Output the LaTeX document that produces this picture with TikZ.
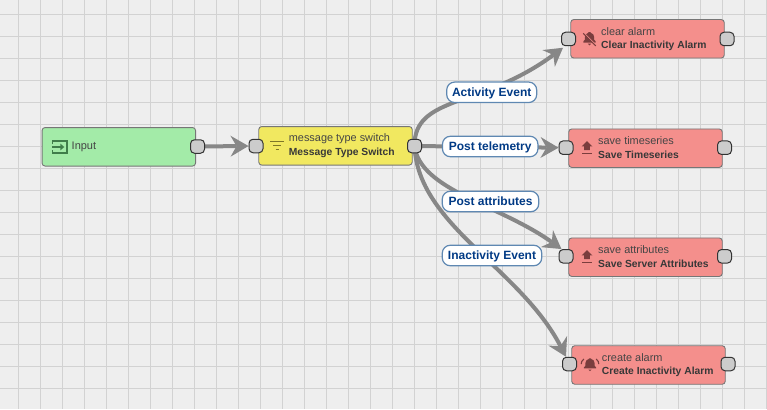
\documentclass[tikz,border=0pt]{standalone}
\usepackage{fontspec}
\setmainfont{Liberation Sans}
\usetikzlibrary{arrows.meta}
\pgfdeclarelayer{gridlayer}
\pgfdeclarelayer{edgelayer}
\pgfsetlayers{gridlayer,edgelayer,main}
\definecolor{bgc}{HTML}{EEEEEE}
\definecolor{gridc}{HTML}{D2D2D2}
\definecolor{edgec}{HTML}{878787}
\definecolor{boxline}{HTML}{767676}
\definecolor{greenc}{HTML}{A3EBA8}
\definecolor{yellowc}{HTML}{F1E860}
\definecolor{redc}{HTML}{F48F8C}
\definecolor{portc}{HTML}{CCCCCC}
\definecolor{labelc}{HTML}{003A85}
\definecolor{labelline}{HTML}{5F88B2}
\definecolor{textc}{HTML}{454545}
\definecolor{redicon}{HTML}{7A3D3D}
\definecolor{yellowicon}{HTML}{7D7628}
\definecolor{greenicon}{HTML}{3F7D4A}
\tikzset{
  box/.style={draw=boxline,line width=0.9pt,rounded corners=3pt,minimum width=153.5pt,minimum height=38.5pt,inner sep=0pt},
  greenbox/.style={box,fill=greenc},
  yellowbox/.style={box,fill=yellowc},
  redbox/.style={box,fill=redc},
  port/.style={draw=black!80,line width=1pt,fill=portc,rounded corners=4pt,minimum width=14pt,minimum height=13.5pt,inner sep=0pt},
  edgeline/.style={draw=edgec,line width=4pt,-{Stealth[length=18pt,width=21pt,inset=6pt,line width=0pt]}},
  edgelabel/.style={draw=labelline,line width=1.2pt,fill=white,rounded corners=8pt,text=labelc,font=\fontsize{12}{14}\selectfont\bfseries,inner sep=0pt,minimum height=20.5pt,text height=11.6pt,text depth=3pt},
  nametext/.style={anchor=west,inner sep=0pt,text=textc,font=\fontsize{10.9}{12}\selectfont},
  typetext/.style={anchor=west,inner sep=0pt,text=black!78,font=\fontsize{10.3}{12}\selectfont\bfseries},
}
\newcommand{\bellbody}{
  (-5.5,3.6) -- (5.5,3.6) -- (5.5,2.6) -- (4.2,1.2) -- (4.2,-1.2)
  .. controls (4.2,-3.4) and (2.8,-4.6) .. (1.1,-5)
  -- (1.1,-5.6) -- (-1.1,-5.6) -- (-1.1,-5)
  .. controls (-2.8,-4.6) and (-4.2,-3.4) .. (-4.2,-1.2)
  -- (-4.2,1.2) -- (-5.5,2.6) -- cycle
  (-1.5,4.6) -- (1.5,4.6) .. controls (1.5,6.6) and (-1.5,6.6) .. (-1.5,4.6) -- cycle
}
\newcommand{\uploadicon}[2]{
  \begin{scope}[shift={(#1,#2)}]
    \fill[redicon] (0,-5.8) -- (5.4,-0.6) -- (2.8,-0.6) -- (2.8,3.2) -- (-2.8,3.2) -- (-2.8,-0.6) -- (-5.4,-0.6) -- cycle;
    \fill[redicon] (-5.4,5.5) rectangle (5.4,6.6);
  \end{scope}
}
\begin{document}
\begin{tikzpicture}[x=1pt,y=-1pt]
\useasboundingbox (0,0) rectangle (767,409);
\begin{pgfonlayer}{gridlayer}
  \fill[bgc] (0,0) rectangle (767,409);
  \foreach \i in {0,...,34} \draw[gridc,line width=1pt] ({18.3+22*\i},0) -- ({18.3+22*\i},409);
  \foreach \j in {0,...,18} \draw[gridc,line width=1pt] (0,{14.3+22*\j}) -- (767,{14.3+22*\j});
\end{pgfonlayer}

% boxes
\node[greenbox]  (in) at (118.8,146.8) {};
\node[yellowbox] (ms) at (335.5,145.8) {};
\node[redbox]    (ca) at (647.5,38.8)  {};
\node[redbox]    (st) at (645.5,148.2) {};
\node[redbox]    (sa) at (645.5,257.2) {};
\node[redbox]    (cr) at (648.5,365)   {};

% ports
\node[port] (inR) at (197.5,146.5) {};
\node[port] (msL) at (256,146) {};
\node[port] (msR) at (414.5,146) {};
\node[port] (caL) at (568.5,39) {};
\node[port] (caR) at (727,39) {};
\node[port] (stL) at (566,147.7) {};
\node[port] (stR) at (724.5,147.7) {};
\node[port] (saL) at (566,256.3) {};
\node[port] (saR) at (724.5,256.3) {};
\node[port] (crL) at (569.5,364) {};
\node[port] (crR) at (728,364) {};

% connectors
\begin{pgfonlayer}{edgelayer}
  \draw[edgeline] (inR.center) -- (msL.west);
  \draw[edgeline] (msR.center) -- (stL.west);
  \draw[edgeline] (msR.center) .. controls (414,95) and (482,108) .. ([xshift=2pt,yshift=-1.5pt]caL.south west);
  \draw[edgeline] (msR.center) .. controls (420,190) and (500,205) .. ([xshift=3pt]saL.north west);
  \draw[edgeline] (msR.center) .. controls (418,225) and (520,268) .. ([xshift=4pt]crL.north west);
\end{pgfonlayer}

% edge labels
\node[edgelabel,minimum width=90pt]   (l1) at (491.7,92.3)  {Activity Event};
\node[edgelabel,minimum width=95.5pt] (l2) at (490.2,146.5) {Post telemetry};
\node[edgelabel,minimum width=96.5pt] (l3) at (490.5,201.5) {Post attributes};
\node[edgelabel,minimum width=99.5pt] (l4) at (492,255.5)   {Inactivity Event};

% texts
\node[nametext,font=\fontsize{11}{12}\selectfont] (int) at (71.5,147) {Input};
\node[nametext] (msn) at (288.7,139) {message type switch};
\node[typetext] (mst) at (288.7,153) {Message Type Switch};
\node[nametext] (can) at (601,32) {clear alarm};
\node[typetext] (cat) at (601,46) {Clear Inactivity Alarm};
\node[nametext] (stn) at (598,141) {save timeseries};
\node[typetext] (stt) at (598,155) {Save Timeseries};
\node[nametext] (san) at (598,250) {save attributes};
\node[typetext] (sat) at (598,264) {Save Server Attributes};
\node[nametext] (crn) at (601.7,358) {create alarm};
\node[typetext] (crt) at (601.7,372) {Create Inactivity Alarm};

% icons
\begin{scope}[shift={(59.7,147)}]
  \draw[greenicon,line width=1.5pt] (-7.3,-3) -- (-7.3,-5.8) -- (7.3,-5.8) -- (7.3,5.8) -- (-7.3,5.8) -- (-7.3,3);
  \draw[greenicon,line width=1.5pt] (-7.3,0) -- (2.5,0);
  \fill[greenicon] (4.6,0) -- (0.6,-3.4) -- (0.6,3.4) -- cycle;
\end{scope}
\begin{scope}[shift={(277,145.3)},yellowicon,line width=1.4pt]
  \draw (-7,-4) -- (7,-4);
  \draw (-4,0) -- (4,0);
  \draw (-1.5,4) -- (1.5,4);
\end{scope}
\begin{scope}[shift={(589.5,38.5)},scale=1.12]
  \fill[redicon] \bellbody;
  \draw[redc,line width=1pt] (-5.6,-5.6) -- (6.2,6.2);
  \draw[redicon,line width=1.2pt] (-5.6,-4.6) -- (5.6,6.6);
\end{scope}
\uploadicon{587}{147}
\uploadicon{587}{256}
\begin{scope}[shift={(590,364.5)},scale=1.1]
  \fill[redicon] \bellbody;
  \draw[redicon,line width=1.1pt] (-5.6,-5) .. controls (-7.4,-3.6) and (-8,-2) .. (-8,-0.4);
  \draw[redicon,line width=1.1pt] (5.6,-5) .. controls (7.4,-3.6) and (8,-2) .. (8,-0.4);
\end{scope}
\end{tikzpicture}
\end{document}
